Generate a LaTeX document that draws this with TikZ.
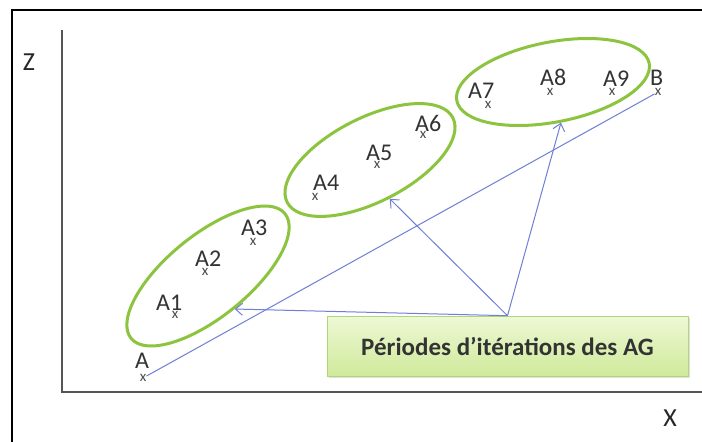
\documentclass[tikz,border=0pt]{standalone}
\usepackage{fontspec}
\setmainfont{Carlito}
\usetikzlibrary{shapes.geometric,arrows.meta,shadows}
\definecolor{agreen}{HTML}{8DC43F}
\definecolor{ablue}{HTML}{6F7FD4}
\definecolor{axisgray}{HTML}{555555}
\definecolor{boxtop}{HTML}{EEF8D6}
\definecolor{boxbot}{HTML}{CFEA9A}
\begin{document}
\begin{tikzpicture}[x=1pt,y=-1pt,
  ptmark/.style={inner sep=0pt, font=\fontsize{15}{15}\selectfont, text=black!70},
  ptlabel/.style={anchor=base west, inner sep=0pt, font=\fontsize{24}{24}\selectfont, text=black!80},
  grp/.style={ellipse, draw=agreen, line width=3pt, inner sep=0pt},
  conn/.style={draw=ablue, line width=1pt},
  arr/.style={conn, -{Straight Barb[length=7pt,width=12pt]}},
  axis/.style={draw=axisgray, line width=2pt},
  frameline/.style={draw=black, line width=1.5pt},
  axlabel/.style={inner sep=0pt, font=\fontsize{26}{26}\selectfont, text=black!85},
  legend/.style={draw=agreen!70, line width=0.6pt, top color=boxtop, bottom color=boxbot,
    minimum width=361pt, minimum height=60pt, inner sep=0pt,
    font=\fontsize{25}{25}\selectfont\bfseries, text=black!80,
    drop shadow={shadow xshift=2pt, shadow yshift=-2pt, opacity=0.25}}
]
\useasboundingbox (0,0) rectangle (702,442);
\fill[white] (0,0) rectangle (702,442);
% outer frame
\coordinate (fbl) at (12,442);
\coordinate (ftl) at (12,10);
\coordinate (ftr) at (702,10);
\draw[frameline] (fbl) -- (ftl) -- (ftr);
% axes
\coordinate (ztop) at (62,30);
\coordinate (orig) at (62,392);
\coordinate (xend) at (702,392);
\draw[axis] (ztop) -- (orig) -- (xend);
\node[axlabel] (zl) at (29,62) {Z};
\node[axlabel] (xl) at (670,418) {X};
% groups
\node[grp, minimum width=198pt, minimum height=82pt, rotate=39] (e1) at (208,276) {};
\node[grp, minimum width=186pt, minimum height=84pt, rotate=27] (e2) at (370,160) {};
\node[grp, minimum width=196pt, minimum height=80pt, rotate=11] (e3) at (553,82) {};
% points
\node[ptmark] (pA) at (143,378) {x};
\node[ptmark] (p1) at (175,315) {x};
\node[ptmark] (p2) at (205,272) {x};
\node[ptmark] (p3) at (253,242) {x};
\node[ptmark] (p4) at (315,197) {x};
\node[ptmark] (p5) at (377,165) {x};
\node[ptmark] (p6) at (423,135) {x};
\node[ptmark] (p7) at (488,105) {x};
\node[ptmark] (p8) at (550,92) {x};
\node[ptmark] (p9) at (612,92) {x};
\node[ptmark] (pB) at (658,92) {x};
% labels
\node[ptlabel] (lA) at (135,368) {A};
\node[ptlabel] (l1) at (156,310) {A1};
\node[ptlabel] (l2) at (195,266) {A2};
\node[ptlabel] (l3) at (241,235) {A3};
\node[ptlabel] (l4) at (313,190) {A4};
\node[ptlabel] (l5) at (366,160) {A5};
\node[ptlabel] (l6) at (415,131) {A6};
\node[ptlabel] (l7) at (468,98) {A7};
\node[ptlabel] (l8) at (540,85) {A8};
\node[ptlabel] (l9) at (603,86) {A9};
\node[ptlabel] (lB) at (650,85) {B};
% A -> B line
\draw[conn] (pA) -- (pB);
% legend box
\node[legend] (box) at (507.5,346) {Périodes d'itérations des AG};
\draw[arr] (box.north) -- (e1.south);
\draw[arr] (box.north) -- (e2.south);
\draw[arr] (box.north) -- (e3.south);
\end{tikzpicture}
\end{document}
